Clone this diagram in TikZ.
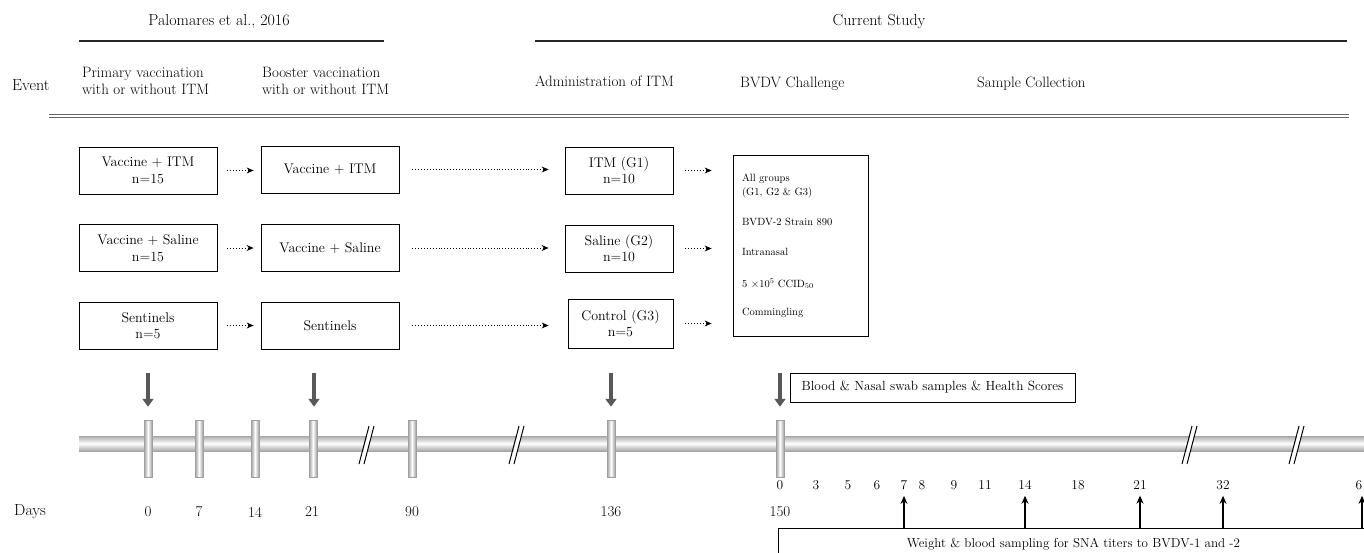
\documentclass[tikz,border=0pt]{standalone}
\usetikzlibrary{arrows.meta}
\begin{document}
\begin{tikzpicture}[x=1pt,y=-1pt,
  hdr/.style={font=\fontsize{16}{19}\selectfont, inner sep=0pt},
  evt/.style={font=\fontsize{15}{17}\selectfont, inner sep=0pt, anchor=west, align=left},
  grp/.style={draw, line width=0.8pt, minimum width=138pt, minimum height=47pt, inner sep=0pt, align=center, font=\fontsize{14}{16.5}\selectfont},
  dotarr/.style={dotted, line width=0.9pt, -{Stealth[length=7pt,width=6pt]}},
  tube/.style={top color=gray!65, bottom color=gray!70, middle color=white},
  ring/.style={draw=gray!75, line width=0.5pt, minimum width=8pt, minimum height=57pt, inner sep=0pt, left color=gray!75, right color=gray!75, middle color=white},
  downarr/.style={draw=black!65, line width=3.6pt, -{Triangle[length=8pt,width=11pt]}},
  uparr/.style={draw=black, line width=1.1pt, -{Stealth[length=8pt,width=7pt]}},
  day/.style={font=\fontsize{15}{17}\selectfont, inner sep=0pt},
  dayb/.style={font=\fontsize{13.5}{16}\selectfont, inner sep=0pt},
  brk/.style={line width=1pt}
]
\useasboundingbox (0,0) rectangle (1364,553);
\clip (0,0) rectangle (1364,553);

% headers
\node[hdr] (pal) at (219,22) {Palomares et al., 2016};
\draw[line width=1.6pt, black!85] (79,41) -- (384,41);
\node[hdr] (cur) at (879,22) {Current Study};
\draw[line width=1.6pt, black!85] (535,41) -- (1347,41);

\node[evt, font=\fontsize{16}{19}\selectfont] (event) at (12,85) {Event};
\node[evt] (prim) at (82,81) {Primary vaccination\\with or without ITM};
\node[evt] (boost) at (262,81) {Booster vaccination\\with or without ITM};
\node[evt] (adm) at (535,81) {Administration of ITM};
\node[evt] (chal) at (740,84) {BVDV Challenge};
\node[evt] (samp) at (977,84) {Sample Collection};

\draw[line width=1pt, black!60] (49,114.5) -- (1349,114.5);
\draw[line width=1pt, black!60] (49,117.5) -- (1349,117.5);

% group boxes
\node[grp] (a1) at (148,170.5) {Vaccine + ITM\\n=15};
\node[grp] (b1) at (330,169.5) {Vaccine + ITM};
\node[grp, minimum width=108pt] (c1) at (619,170.5) {ITM (G1)\\n=10};
\node[grp] (a2) at (148,248) {Vaccine + Saline\\n=15};
\node[grp] (b2) at (330,248) {Vaccine + Saline};
\node[grp, minimum width=108pt] (c2) at (619,248.5) {Saline (G2)\\n=10};
\node[grp] (a3) at (148,325.5) {Sentinels\\n=5};
\node[grp] (b3) at (330,325.5) {Sentinels};
\node[grp, minimum width=105pt, minimum height=49pt] (c3) at (620.5,323.5) {Control (G3)\\n=5};

\node[draw, line width=0.8pt, minimum width=135pt, minimum height=181pt, text width=117pt, inner xsep=9pt, inner ysep=0pt, align=left, font=\fontsize{10.5}{14}\selectfont] (d) at (800.5,245.5)
  {All groups\\(G1, G2 \& G3)\\[16pt]BVDV-2 Strain 890\\[16pt]Intranasal\\[18pt]5 $\times$10\textsuperscript{5} CCID\textsubscript{50}\\[14pt]Commingling};

\draw[dotarr, shorten <=10pt, shorten >=7pt] (a1.east) -- (a1.east -| b1.west);
\draw[dotarr, shorten <=10pt, shorten >=7pt] (a2.east) -- (a2.east -| b2.west);
\draw[dotarr, shorten <=10pt, shorten >=7pt] (a3.east) -- (a3.east -| b3.west);
\draw[dotarr, shorten <=13pt, shorten >=16pt] (b1.east) -- (b1.east -| c1.west);
\draw[dotarr, shorten <=13pt, shorten >=16pt] (b2.east) -- (b2.east -| c2.west);
\draw[dotarr, shorten <=13pt, shorten >=19pt] (b3.east) -- (b3.east -| c3.west);
\draw[dotarr, shorten <=12pt, shorten >=21pt] (c1.east) -- (c1.east -| d.west);
\draw[dotarr, shorten <=12pt, shorten >=21pt] (c2.east) -- (c2.east -| d.west);
\draw[dotarr, shorten <=12pt, shorten >=21pt] (c3.east) -- (c3.east -| d.west);

% timeline tube
\shade[tube] (79,436) rectangle (1370,451);
\draw[gray!70, line width=0.5pt] (79,436) -- (1370,436) (79,451) -- (1370,451);

\foreach \n/\x in {t0/148, t7/199, t14/255, t21/313, t90/412, t136/611, t150/780}
  \node[ring] (\n) at (\x,448.5) {};

% breaks
\foreach \x in {367,517,1190,1297}{
  \fill[white] (\x-7,465) -- (\x+3,425) -- (\x+7,425) -- (\x-3,465) -- cycle;
  \draw[brk] (\x-8,464) -- (\x+2,426);
  \draw[brk] (\x-3,464) -- (\x+7,426);
}

% down arrows
\coordinate (dn0) at (148,373);
\coordinate (dn21) at (314,373);
\coordinate (dn136) at (611,373);
\coordinate (dn150) at (780,373);
\draw[downarr, shorten >=13pt] (dn0) -- (t0.north);
\draw[downarr, shorten >=13pt] (dn21) -- (t21.north -| dn21);
\draw[downarr, shorten >=13pt] (dn136) -- (t136.north);
\draw[downarr, shorten >=13pt] (dn150) -- (t150.north);

\node[draw, line width=0.8pt, minimum width=285pt, minimum height=29pt, inner sep=0pt, font=\fontsize{13.3}{15}\selectfont] (bns) at (932.5,387.5) {Blood \& Nasal swab samples \& Health Scores};

% day labels
\node[evt, font=\fontsize{16}{19}\selectfont] (days) at (14,512) {Days};
\foreach \n/\x/\l in {l0/148/0, l7/199/7, l14/255/14, l21/312/21, l90/412/90, l136/611/136, l150/780/150}
  \node[day] (\n) at (\x,512) {\l};
\foreach \n/\x/\l in {e0/780/0, e3/816/3, e5/848/5, e6/877/6, e7/904/7, e8/922/8, e9/954/9, e11/985/11, e14/1025/14, e18/1078/18, e21/1140/21, e32/1223/32, e60/1359/6}
  \node[dayb] (\n) at (\x,485) {\l};

% weight box
\node[draw, line width=0.8pt, anchor=north west, minimum width=590pt, minimum height=31pt, inner sep=0pt, font=\fontsize{13}{15}\selectfont] (w) at (778,528) {Weight \& blood sampling for SNA titers to BVDV-1 and -2};

\foreach \n in {e7,e14,e21,e32}
  \draw[uparr, shorten >=6pt] (w.north -| \n) -- (\n.south);
\coordinate (up60) at (1362,528);
\draw[uparr, shorten >=6pt] (up60) -- (up60 |- e60.south);
\end{tikzpicture}
\end{document}
